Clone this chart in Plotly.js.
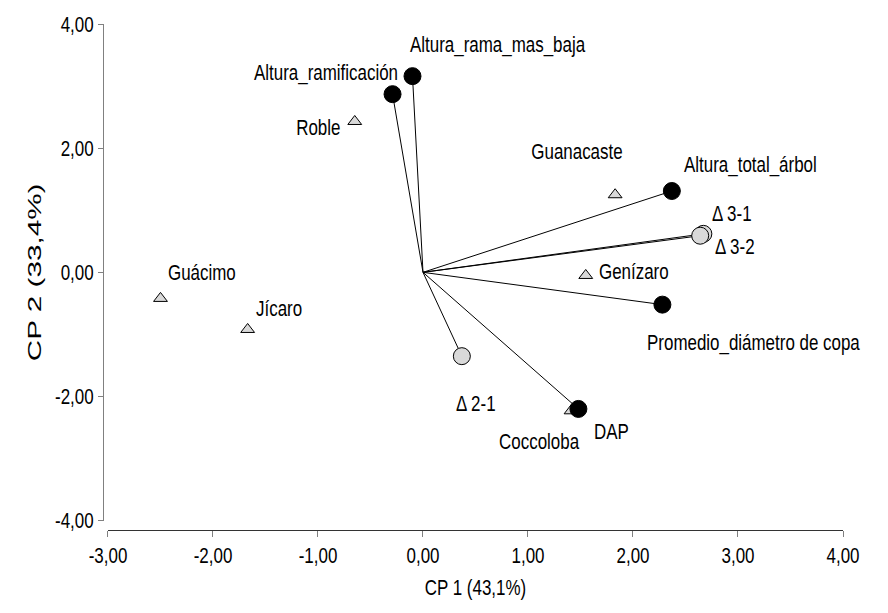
<!DOCTYPE html>
<html><head><meta charset="utf-8">
<script src="https://cdn.plot.ly/plotly-3.0.1.min.js"></script>
<style>html,body{margin:0;padding:0;background:#fff}#chart{width:888px;height:613px}</style>
</head><body><div id="chart"></div>
<script>
// Variables (vectors from the origin)
const varNames = ["Altura_rama_mas_baja","Altura_ramificación","Altura_total_árbol","Promedio_diámetro de copa","DAP"];
const varX = [-0.10, -0.29, 2.37, 2.28, 1.48];
const varY = [3.16, 2.87, 1.31, -0.52, -2.20];
// Difference vectors (grey circles)
const diffNames = ["Δ 3-1","Δ 3-2","Δ 2-1"];
const diffX = [2.67, 2.64, 0.37];
const diffY = [0.62, 0.59, -1.35];
// Species (triangles)
const spNames = ["Roble","Guanacaste","Genízaro","Guácimo","Jícaro","Coccoloba"];
const spX = [-0.65, 1.83, 1.55, -2.50, -1.67, 1.41];
const spY = [2.43, 1.25, -0.05, -0.42, -0.92, -2.23];
const xTicks = [-3,-2,-1,0,1,2,3,4];
const yTicks = [-4,-2,0,2,4];
const fmt = v => v.toFixed(2).replace('.', ',');

const FONT = '"Liberation Sans",Arial,sans-serif';
const NARROW = 0.77;

// label placements (anchor, pixel shifts)
const varLab = [["left",-4,32],["right",7,22],["left",10,27],["left",-17,-38],["left",14,-23]];
const diffLab = [["left",7,20],["left",13,-11],["left",-8,-47]];
const spLab = [["right",-13,-6],["right",10,43],["left",11,4],["left",6,26],["left",6,21],["right",11,-31]];

const traces = [];
const allVX = varX.concat(diffX), allVY = varY.concat(diffY);
const lx = [], ly = [];
allVX.forEach((v,i)=>{ lx.push(0, v, null); ly.push(0, allVY[i], null); });
traces.push({type:'scatter', mode:'lines', x:lx, y:ly, line:{color:'#000', width:1}, hoverinfo:'skip', showlegend:false});
traces.push({type:'scatter', mode:'markers', x:spX, y:spY, text:spNames,
  marker:{symbol:'triangle-up', size:12, color:'#d9d9d9', line:{color:'#000', width:1}}, showlegend:false});
traces.push({type:'scatter', mode:'markers', x:diffX, y:diffY, text:diffNames,
  marker:{symbol:'circle', size:17, color:'#d9d9d9', line:{color:'#000', width:1}}, showlegend:false});
traces.push({type:'scatter', mode:'markers', x:varX, y:varY, text:varNames,
  marker:{symbol:'circle', size:17, color:'#000', line:{color:'#000', width:1}}, showlegend:false});

const annotations = [];
const annAnchors = [];
function addLabels(names, xs, ys, lab){
  names.forEach((n,i)=>{
    annotations.push({x:xs[i], y:ys[i], xref:'x', yref:'y', text:n, showarrow:false,
      xanchor:lab[i][0], yanchor:'middle', xshift:lab[i][1], yshift:lab[i][2],
      font:{family:FONT, size:22, color:'#000'}});
    annAnchors.push(lab[i][0]);
  });
}
addLabels(varNames, varX, varY, varLab);
addLabels(diffNames, diffX, diffY, diffLab);
addLabels(spNames, spX, spY, spLab);

const layout = {
  width:888, height:613,
  margin:{l:103, r:45, t:24, b:83},
  paper_bgcolor:'#fff', plot_bgcolor:'#fff',
  showlegend:false,
  xaxis:{range:[-3,4], domain:[0.00675,1], anchor:'free', position:0,
    tickvals:xTicks, ticktext:xTicks.map(fmt), ticks:'outside', ticklen:6, tickcolor:'#808080',
    showline:true, linecolor:'#333', linewidth:1, showgrid:false, zeroline:false,
    tickfont:{family:FONT, size:22, color:'#000'},
    title:{text:'CP 1 (43,1%)', font:{family:FONT, size:22, color:'#000'}, standoff:12}},
  yaxis:{range:[-4,4], domain:[0.0184,1], anchor:'free', position:0,
    tickvals:yTicks, ticktext:yTicks.map(fmt), ticks:'outside', ticklen:5, tickcolor:'#808080',
    showline:true, linecolor:'#808080', linewidth:1, showgrid:false, zeroline:false,
    tickfont:{family:FONT, size:22, color:'#000'},
    title:{text:'CP 2 (33,4%)', font:{family:FONT, size:18, color:'#000'}, standoff:10}},
  annotations:annotations
};

function squeeze(t, s, mode, dy){
  const bb = t.getBBox();
  const a = mode || t.getAttribute('text-anchor') || 'start';
  const ax = (a==='end'||a==='right') ? bb.x+bb.width : (a==='middle') ? bb.x+bb.width/2 : bb.x;
  const ex = t.getAttribute('transform') || '';
  t.setAttribute('transform', ex + ' translate(' + ax + ',0) scale(' + s + ',1) translate(' + (-ax) + ',' + (dy||0) + ')');
}

Plotly.newPlot('chart', traces, layout, {displayModeBar:false, staticPlot:true}).then(gd=>{
  gd.querySelectorAll('.xtick text').forEach(t=>squeeze(t, NARROW, 'middle'));
  gd.querySelectorAll('.ytick text').forEach(t=>squeeze(t, NARROW, 'end'));
  gd.querySelectorAll('.xtitle').forEach(t=>squeeze(t, NARROW, 'middle'));
  const base = gd.getBoundingClientRect();
  gd.querySelectorAll('.ytitle').forEach(t=>{
    const r = t.getBoundingClientRect();
    const cx = r.left + r.width/2 - base.left;
    squeeze(t, 1.65, 'middle', 35 - cx);
  });
  gd.querySelectorAll('g.annotation').forEach((g,i)=>{
    const t = g.querySelector('text.annotation-text');
    if(t) squeeze(t, NARROW, annAnchors[i]==='right' ? 'end' : 'start');
  });
});
</script></body></html>
